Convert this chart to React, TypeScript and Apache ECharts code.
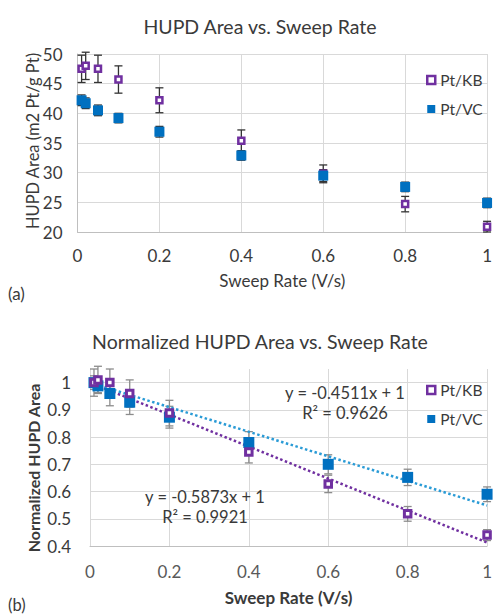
import React, { useEffect, useRef } from "react";
import * as echarts from "echarts";

const sweepRates = [0.01, 0.02, 0.05, 0.1, 0.2, 0.4, 0.6, 0.8, 1.0];
const xTicks = [0, 0.2, 0.4, 0.6, 0.8, 1];

const kbArea = [47.5, 48.0, 47.5, 45.7, 42.2, 35.4, 29.8, 24.7, 20.9];
const kbAreaErr = [2.3, 2.3, 2.3, 2.3, 2.1, 1.8, 1.5, 1.3, 0.9];
const vcArea = [42.2, 41.7, 40.5, 39.2, 36.9, 32.9, 29.5, 27.6, 24.9];
const vcAreaErr = [0.9, 0.9, 0.9, 0.8, 0.9, 0.8, 1.0, 0.8, 0.8];

const kbNorm = [1.0, 1.01, 1.0, 0.96, 0.888, 0.745, 0.628, 0.518, 0.44];
const kbNormErr = [0.05, 0.05, 0.05, 0.05, 0.047, 0.04, 0.032, 0.027, 0.02];
const vcNorm = [1.0, 0.988, 0.96, 0.928, 0.873, 0.78, 0.7, 0.652, 0.59];
const vcNormErr = [0.025, 0.025, 0.045, 0.045, 0.04, 0.04, 0.035, 0.03, 0.027];

const kbTrend = { slope: -0.5873, intercept: 1, r2: 0.9921 };
const vcTrend = { slope: -0.4511, intercept: 1, r2: 0.9626 };

const PURPLE = "#7030A0";
const BLUE = "#0070C0";
const BLUE_TREND = "#2a9bd6";
const FONT = "Lato, 'Open Sans', sans-serif";
const TXT = "#3a3a3a";

function errorSeries(axisIdx: number, vals: number[], errs: number[], color: string) {
  return {
    type: "custom",
    xAxisIndex: axisIdx,
    yAxisIndex: axisIdx,
    silent: true,
    z: 2,
    clip: false,
    data: sweepRates.map((x, i) => [x, vals[i] - errs[i], vals[i] + errs[i]]),
    encode: { x: 0, y: [1, 2] },
    renderItem: (_p: any, api: any) => {
      const x = api.value(0);
      const p1 = api.coord([x, api.value(1)]);
      const p2 = api.coord([x, api.value(2)]);
      const hw = 4;
      const st = { stroke: color, lineWidth: 1.3 };
      return {
        type: "group",
        children: [
          { type: "line", shape: { x1: p1[0], y1: p1[1], x2: p2[0], y2: p2[1] }, style: st },
          { type: "line", shape: { x1: p1[0] - hw, y1: p1[1], x2: p1[0] + hw, y2: p1[1] }, style: st },
          { type: "line", shape: { x1: p2[0] - hw, y1: p2[1], x2: p2[0] + hw, y2: p2[1] }, style: st },
        ],
      };
    },
  };
}

function kbScatter(axisIdx: number, vals: number[], size: number, bw: number) {
  return {
    type: "scatter",
    name: "Pt/KB",
    xAxisIndex: axisIdx,
    yAxisIndex: axisIdx,
    symbol: "rect",
    symbolSize: size,
    z: 4,
    clip: false,
    itemStyle: { color: "#ffffff", borderColor: PURPLE, borderWidth: bw, opacity: 1 },
    data: sweepRates.map((x, i) => [x, vals[i]]),
  };
}

function vcScatter(axisIdx: number, vals: number[], size: number) {
  return {
    type: "scatter",
    name: "Pt/VC",
    xAxisIndex: axisIdx,
    yAxisIndex: axisIdx,
    symbol: "rect",
    symbolSize: size,
    z: 4,
    clip: false,
    itemStyle: { color: BLUE, opacity: 1 },
    data: sweepRates.map((x, i) => [x, vals[i]]),
  };
}

function trendSeries(tr: { slope: number; intercept: number }, color: string) {
  const xs = [xTicks[0], xTicks[xTicks.length - 1]];
  return {
    type: "line",
    xAxisIndex: 1,
    yAxisIndex: 1,
    silent: true,
    symbol: "none",
    z: 3,
    lineStyle: { color, width: 2.5, type: [2.5, 2.5] },
    data: xs.map((x) => [x, tr.slope * x + tr.intercept]),
  };
}

const legendItems = [
  { name: "Pt/KB", itemStyle: { color: "#ffffff", borderColor: PURPLE, borderWidth: 2.5 } },
  { name: "Pt/VC", itemStyle: { color: BLUE, borderWidth: 0 } },
];

export default function App() {
  const ref = useRef<HTMLDivElement>(null);
  useEffect(() => {
    if (!ref.current) return;
    const chart = echarts.init(ref.current, undefined, { renderer: "svg" });
    const axisLabelBase = { color: TXT, fontSize: 17, fontFamily: FONT };
    const gridLine = { show: true, lineStyle: { color: "#d9d9d9", width: 1 } };
    const eq = (t: { slope: number; intercept: number }) =>
      `y = ${t.slope.toFixed(4)}x + ${t.intercept}`;
    const legendBase = {
      left: 421,
      orient: "vertical",
      icon: "rect",
      itemWidth: 8,
      itemHeight: 8,
      itemGap: 11,
      selectedMode: false,
      textStyle: { fontSize: 15.5, color: TXT, fontFamily: FONT, lineHeight: 18 },
      data: legendItems,
    };
    chart.setOption({
      animation: false,
      backgroundColor: "#ffffff",
      textStyle: { fontFamily: FONT },
      title: [
        {
          text: "HUPD Area vs. Sweep Rate",
          left: 255,
          textAlign: "center",
          top: 11,
          textStyle: { fontSize: 19.5, fontWeight: "normal", color: TXT, fontFamily: FONT },
        },
        {
          text: "Normalized HUPD Area vs. Sweep Rate",
          left: 255,
          textAlign: "center",
          top: 326,
          textStyle: { fontSize: 19.5, fontWeight: "normal", color: TXT, fontFamily: FONT },
        },
      ],
      legend: [
        { ...legendBase, top: 66 },
        { ...legendBase, top: 376 },
      ],
      grid: [
        { left: 77.5, right: 5, top: 54, bottom: 384 },
        { left: 90, right: 6, top: 369, bottom: 70 },
      ],
      xAxis: [
        {
          type: "value",
          gridIndex: 0,
          min: 0,
          max: 1,
          interval: 0.2,
          name: "Sweep Rate (V/s)",
          nameLocation: "middle",
          nameGap: 40,
          nameTextStyle: { fontSize: 17, color: TXT, fontFamily: FONT },
          axisLine: { show: true, lineStyle: { color: "#bfbfbf" } },
          axisTick: { show: false },
          axisLabel: { ...axisLabelBase, margin: 15 },
          splitLine: gridLine,
        },
        {
          type: "value",
          gridIndex: 1,
          min: 0,
          max: 1,
          interval: 0.2,
          name: "Sweep Rate (V/s)",
          nameLocation: "middle",
          nameGap: 43,
          nameTextStyle: { fontSize: 17, fontWeight: "bold", color: TXT, fontFamily: FONT },
          axisLine: { show: true, lineStyle: { color: "#bfbfbf" } },
          axisTick: { show: false },
          axisLabel: { ...axisLabelBase, color: "#595959", margin: 17 },
          splitLine: gridLine,
        },
      ],
      yAxis: [
        {
          type: "value",
          gridIndex: 0,
          min: 20,
          max: 50,
          interval: 5,
          axisLine: { show: true, lineStyle: { color: "#bfbfbf" } },
          axisTick: { show: false },
          axisLabel: { ...axisLabelBase, margin: 15 },
          splitLine: gridLine,
        },
        {
          type: "value",
          gridIndex: 1,
          min: 0.4,
          max: 1.05,
          interval: 0.1,
          axisLine: { show: true, lineStyle: { color: "#d9d9d9" } },
          axisTick: { show: false },
          axisLabel: {
            ...axisLabelBase,
            margin: 19,
            formatter: (v: number) => (v > 1.001 ? "" : String(Math.round(v * 10) / 10)),
          },
          splitLine: {
            show: true,
            lineStyle: {
              color: ["#d9d9d9", "#d9d9d9", "#d9d9d9", "#d9d9d9", "#d9d9d9", "#d9d9d9", "#d9d9d9", "rgba(0,0,0,0)"],
            },
          },
        },
      ],
      graphic: [
        {
          type: "text",
          x: 33,
          y: 141,
          rotation: Math.PI / 2,
          style: {
            text: "HUPD Area (m2 Pt/g Pt)",
            fontSize: 16.5,
            fontFamily: FONT,
            fill: TXT,
            align: "center",
            verticalAlign: "middle",
          },
        },
        {
          type: "text",
          x: 33,
          y: 468,
          rotation: Math.PI / 2,
          style: {
            text: "Normalized HUPD Area",
            fontSize: 16,
            fontWeight: "bold",
            fontFamily: FONT,
            fill: TXT,
            align: "center",
            verticalAlign: "middle",
          },
        },
        {
          type: "text",
          x: 8,
          y: 293,
          style: { text: "(a)", fontSize: 17, fontFamily: FONT, fill: TXT, verticalAlign: "middle" },
        },
        {
          type: "text",
          x: 8,
          y: 605,
          style: { text: "(b)", fontSize: 16.5, fontFamily: FONT, fill: TXT, verticalAlign: "middle" },
        },
        {
          type: "text",
          x: 345,
          y: 393,
          z: 10,
          style: { text: eq(vcTrend), fontSize: 16.5, fontFamily: FONT, fill: TXT, align: "center", verticalAlign: "middle" },
        },
        {
          type: "text",
          x: 345,
          y: 413,
          z: 10,
          style: { text: `R² = ${vcTrend.r2.toFixed(4)}`, fontSize: 16.5, fontFamily: FONT, fill: TXT, align: "center", verticalAlign: "middle" },
        },
        {
          type: "text",
          x: 205,
          y: 497,
          z: 10,
          style: { text: eq(kbTrend), fontSize: 16.5, fontFamily: FONT, fill: TXT, align: "center", verticalAlign: "middle" },
        },
        {
          type: "text",
          x: 205,
          y: 517,
          z: 10,
          style: { text: `R² = ${kbTrend.r2.toFixed(4)}`, fontSize: 16.5, fontFamily: FONT, fill: TXT, align: "center", verticalAlign: "middle" },
        },
      ],
      series: [
        errorSeries(0, kbArea, kbAreaErr, "#333333"),
        errorSeries(0, vcArea, vcAreaErr, "#333333"),
        kbScatter(0, kbArea, 6, 2.5),
        vcScatter(0, vcArea, 10),
        trendSeries(kbTrend, PURPLE),
        trendSeries(vcTrend, BLUE_TREND),
        errorSeries(1, kbNorm, kbNormErr, "#8c8c8c"),
        errorSeries(1, vcNorm, vcNormErr, "#8c8c8c"),
        vcScatter(1, vcNorm, 11),
        kbScatter(1, kbNorm, 6.5, 3),
      ],
    });
    return () => chart.dispose();
  }, []);
  return (
    <div
      ref={ref}
      style={{ position: "absolute", left: 0, top: 0, width: 495, height: 616, background: "#fff" }}
    />
  );
}
